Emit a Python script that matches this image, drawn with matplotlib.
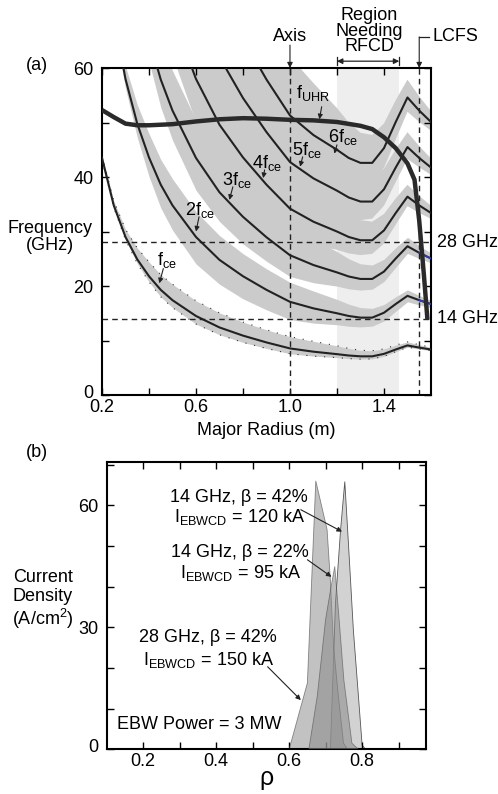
import numpy as np
import matplotlib
matplotlib.use('Agg')
import matplotlib.pyplot as plt
import matplotlib.transforms as mtransforms

plt.rcParams['font.family'] = ['Liberation Sans', 'DejaVu Sans']
plt.rcParams['mathtext.fontset'] = 'custom'
plt.rcParams['mathtext.rm'] = 'Liberation Sans'
plt.rcParams['mathtext.it'] = 'Liberation Sans:italic'
FS = 13
plt.rcParams['font.size'] = FS

# ---- panel (a): resonance frequencies vs major radius ----
R = [0.20, 0.25, 0.30, 0.35, 0.40, 0.45, 0.50, 0.60, 0.70, 0.80, 0.90, 1.00,
     1.10, 1.20, 1.25, 1.30, 1.35, 1.40, 1.45, 1.50, 1.55, 1.60]
f1ce = [43.5, 34.8, 29.0, 24.9, 21.8, 19.3, 17.4, 14.5, 12.4, 10.9, 9.65, 8.55,
        7.95, 7.5, 7.25, 7.1, 7.1, 7.55, 8.35, 9.1, 8.7, 8.35]
f2ce = [87, 69.6, 58, 49.8, 43.6, 38.6, 34.8, 29, 24.8, 21.8, 19.3, 17.1,
        15.9, 15, 14.5, 14.2, 14.2, 15.1, 16.7, 18.2, 17.4, 16.7]
f3ce = [130.5, 104.4, 87, 74.7, 65.4, 57.9, 52.2, 43.5, 37.2, 32.7, 28.95, 25.65,
        23.85, 22.5, 21.75, 21.3, 21.3, 22.65, 25.05, 27.3, 26.1, 25.05]
f4ce = [174, 139.2, 116, 99.6, 87.2, 77.2, 69.6, 58, 49.6, 43.6, 38.6, 34.2,
        31.8, 30, 29, 28.4, 28.4, 30.2, 33.4, 36.4, 34.8, 33.4]
f5ce = [217.5, 174, 145, 124.5, 109, 96.5, 87, 72.5, 62, 54.5, 48.25, 42.75,
        39.75, 37.5, 36.25, 35.5, 35.5, 37.75, 41.75, 45.5, 43.5, 41.75]
f6ce = [261, 208.8, 174, 149.4, 130.8, 115.8, 104.4, 87, 74.4, 65.4, 57.9, 51.3,
        47.7, 45, 43.5, 42.6, 42.6, 45.3, 50.1, 54.6, 52.2, 50.1]

# relative Doppler width of the resonance bands (upper / lower side)
w_hi = [0.01, 0.02, 0.04, 0.07, 0.10, 0.12, 0.14, 0.16, 0.18, 0.19, 0.20, 0.21,
        0.20, 0.17, 0.15, 0.13, 0.12, 0.10, 0.08, 0.06, 0.05, 0.04]
w_lo = [0.01, 0.02, 0.03, 0.05, 0.08, 0.11, 0.13, 0.17, 0.18, 0.19, 0.19, 0.19,
        0.17, 0.14, 0.13, 0.12, 0.11, 0.10, 0.08, 0.06, 0.05, 0.04]
lo_scale = [0.6, 1.0, 0.8, 0.8, 0.8, 0.8]
hi_scale = [1.2, 1.0, 1.0, 1.0, 1.0, 1.0]

R_uhr = [0.20, 0.25, 0.30, 0.35, 0.40, 0.50, 0.60, 0.70, 0.80, 0.90, 1.00, 1.10,
         1.20, 1.30, 1.35, 1.40, 1.45, 1.50, 1.53, 1.55, 1.57, 1.585]
f_uhr = [52.3, 51.0, 49.8, 49.5, 49.5, 49.7, 50.2, 50.6, 50.8, 50.7, 50.5, 50.4,
         50.1, 49.4, 48.8, 47.3, 45.3, 42.5, 39.5, 32.0, 22.0, 13.8]

R_axis = 1.0
R_lcfs = 1.55
rfcd = (1.2, 1.465)
f_sources = [28, 14]

# ---- panel (b): EBW driven current density profiles ----
rho_14_42 = [0.713, 0.727, 0.741, 0.7525, 0.763, 0.776, 0.790, 0.800, 0.810]
j_14_42 = [0, 36, 54, 65.8, 49.8, 29.3, 12.9, 1.0, 0]
rho_28_42 = [0.600, 0.650, 0.673, 0.686, 0.704, 0.713, 0.722, 0.735, 0.749, 0.760]
j_28_42 = [0, 16.3, 66.0, 61.0, 54.0, 41.6, 25.0, 13.0, 1.5, 0]
rho_14_22 = [0.654, 0.677, 0.700, 0.715, 0.725, 0.736, 0.750, 0.772, 0.790]
j_14_22 = [0, 13, 32, 40, 45, 33, 17, 1.5, 0]

fig = plt.figure(figsize=(4.98, 7.94), dpi=100)
ax1 = fig.add_axes([0.2048, 0.5025, 0.6606, 0.4118])
ax2 = fig.add_axes([0.2142, 0.0563, 0.6412, 0.3622])

Ra = np.array(R)
harmonics = [f1ce, f2ce, f3ce, f4ce, f5ce, f6ce]
wl = np.array(w_lo)
wh = np.array(w_hi)

ax1.axvspan(rfcd[0], rfcd[1], color='#eeeeee', zorder=0, lw=0)
for i, f in enumerate(harmonics):
    f = np.array(f)
    lower = f * (1 - lo_scale[i] * wl)
    upper = f * (1 + hi_scale[i] * wh)
    ax1.fill_between(Ra, lower, upper, color='#cbcbcb', lw=0, zorder=1)
    if i == 0:
        ax1.plot(Ra, lower, color='#333333', lw=0.8, ls=(0, (1, 7)), zorder=2)
        ax1.plot(Ra, upper, color='#333333', lw=0.8, ls=(0, (1, 7)), zorder=2)

for fs in f_sources:
    ax1.axhline(fs, color='#222222', lw=1, dashes=(4, 3), zorder=2)
ax1.axvline(R_axis, color='#222222', lw=1, dashes=(4, 3), zorder=2)
ax1.axvline(R_lcfs, color='#222222', lw=1, dashes=(4, 3), zorder=2)

for f in harmonics:
    ax1.plot(Ra, f, color='#222222', lw=1.5, zorder=3)
for f in [f2ce, f3ce]:
    ax1.plot(Ra[-2:], f[-2:], color='#2a3fbf', lw=1.2, zorder=3)
ax1.plot(R_uhr, f_uhr, color='#2a2a2a', lw=3.2, zorder=4, solid_capstyle='butt')

ax1.set_xlim(0.2, 1.6)
ax1.set_ylim(0, 60)
ax1.set_xticks([0.2, 0.6, 1.0, 1.4])
ax1.set_xticks([0.4, 0.8, 1.2], minor=True)
ax1.set_yticks([0, 20, 40, 60])
ax1.set_yticks([10, 30, 50], minor=True)
ax1.set_xlabel('Major Radius (m)', fontsize=FS, labelpad=4)

lbl = dict(fontsize=FS, ha='center', va='center', zorder=6)
arr = dict(arrowstyle='-|>', color='#222222', lw=0.8, mutation_scale=7,
           shrinkA=0, shrinkB=0)
ann_a = [
    (r'f$_{\mathregular{UHR}}$', (1.098, 55.4), (1.135, 52.9), (1.125, 50.6)),
    (r'6f$_{\mathregular{ce}}$', (1.226, 47.4), (1.200, 45.9), (1.189, 44.3)),
    (r'5f$_{\mathregular{ce}}$', (1.071, 45.0), (1.054, 43.7), (1.043, 41.9)),
    (r'4f$_{\mathregular{ce}}$', (0.901, 42.6), (0.892, 41.3), (0.886, 39.8)),
    (r'3f$_{\mathregular{ce}}$', (0.773, 39.4), (0.757, 38.2), (0.742, 35.8)),
    (r'2f$_{\mathregular{ce}}$', (0.617, 33.9), (0.613, 32.7), (0.600, 30.0)),
    (r'f$_{\mathregular{ce}}$', (0.475, 24.8), (0.461, 23.2), (0.444, 20.5)),
]
for txt, tpos, a0, a1 in ann_a:
    ax1.text(*tpos, txt, **lbl)
    ax1.annotate('', xy=a1, xytext=a0, arrowprops=arr, zorder=6)

blend = mtransforms.blended_transform_factory(ax1.transData, ax1.transAxes)
ax1.text(R_axis, 1.096, 'Axis', transform=blend, ha='center', va='center', fontsize=FS)
ax1.annotate('', xy=(R_axis, 1.0), xytext=(R_axis, 1.07), xycoords=blend,
             arrowprops=dict(arr, mutation_scale=8), annotation_clip=False)
ax1.text(sum(rfcd) / 2 + 0.005, 1.113, 'Region\nNeeding\nRFCD', transform=blend,
         ha='center', va='center', fontsize=FS, linespacing=0.88)
ax1.annotate('', xy=(rfcd[0], 1.021), xytext=(rfcd[1], 1.021), xycoords=blend,
             arrowprops=dict(arrowstyle='<|-|>', color='#222222', lw=0.9,
                             mutation_scale=8, shrinkA=0, shrinkB=0),
             annotation_clip=False)
for xe in rfcd:
    ax1.plot([xe, xe], [1.008, 1.035], transform=blend, color='#222222',
             lw=0.9, clip_on=False)
ax1.plot([R_lcfs, R_lcfs + 0.04], [1.095, 1.095], transform=blend,
         color='#222222', lw=0.9, clip_on=False)
ax1.annotate('', xy=(R_lcfs, 1.0), xytext=(R_lcfs, 1.095), xycoords=blend,
             arrowprops=dict(arr, mutation_scale=8), annotation_clip=False)
ax1.text(R_lcfs + 0.055, 1.095, 'LCFS', transform=blend, ha='left',
         va='center', fontsize=FS)

yblend = mtransforms.blended_transform_factory(ax1.transAxes, ax1.transData)
for fs in f_sources:
    ax1.text(1.018, fs, f'{fs} GHz', transform=yblend, ha='left',
             va='center', fontsize=FS)

# panel (b)
ax2.fill(rho_14_42, j_14_42, facecolor='#d2d2d2', edgecolor='#555555', lw=0.6, zorder=1)
ax2.fill(rho_28_42, j_28_42, facecolor='#9a9a9a', alpha=0.6, edgecolor='#444444',
         lw=0.6, zorder=2)
ax2.fill(rho_14_22, j_14_22, facecolor='#8a8a8a', alpha=0.55, edgecolor='#444444',
         lw=0.6, zorder=3)

ax2.set_xlim(0.1, 0.975)
ax2.set_ylim(0, 70.7)
ax2.set_xticks([0.2, 0.4, 0.6, 0.8])
ax2.set_xticks([0.3, 0.5, 0.7, 0.9], minor=True)
ax2.set_yticks([0, 30, 60])
ax2.set_yticks([10, 20, 40, 50, 70], minor=True)
ax2.set_xlabel('ρ', fontsize=18, labelpad=-3)

ann_b = [
    ('14 GHz, β = 42%', r'I$_{\mathregular{EBWCD}}$ = 120 kA', 0.463, 62.0, 57.1,
     (0.632, 58.9), (0.745, 53.5)),
    ('14 GHz, β = 22%', r'I$_{\mathregular{EBWCD}}$ = 95 kA', 0.466, 48.5, 43.4,
     (0.650, 46.6), (0.716, 42.4)),
    ('28 GHz, β = 42%', r'I$_{\mathregular{EBWCD}}$ = 150 kA', 0.378, 27.4, 22.0,
     (0.541, 20.3), (0.632, 12.1)),
]
for t1, t2, x, y1, y2, a0, a1 in ann_b:
    ax2.text(x, y1, t1, ha='center', va='center', fontsize=FS, zorder=6)
    ax2.text(x, y2, t2, ha='center', va='center', fontsize=FS, zorder=6)
    ax2.annotate('', xy=a1, xytext=a0, arrowprops=arr, zorder=6)
ax2.text(0.127, 6.0, 'EBW Power = 3 MW', ha='left', va='center', fontsize=FS)

for ax in (ax1, ax2):
    ax.tick_params(which='both', direction='in', top=True, right=True,
                   length=5, width=1, labelsize=FS)
    ax.tick_params(axis='x', pad=3)
    ax.tick_params(axis='y', pad=6)
    for s in ax.spines.values():
        s.set_linewidth(1.5)

# lift the "0" labels a little so they clear the first x tick label
fig.canvas.draw()
lift = mtransforms.ScaledTranslation(0, 4 / 100, fig.dpi_scale_trans)
for ax in (ax1, ax2):
    zero = ax.get_yticklabels()[0]
    zero.set_transform(zero.get_transform() + lift)

fig.text(0.0737, 0.918, '(a)', ha='center', va='center', fontsize=FS)
fig.text(0.0737, 0.4295, '(b)', ha='center', va='center', fontsize=FS)
fig.text(0.100, 0.7015, 'Frequency\n(GHz)', ha='center', va='center',
         fontsize=FS, linespacing=0.95)
fig.text(0.0863, 0.2443, 'Current\nDensity\n(A/cm$^2$)', ha='center',
         va='center', fontsize=FS, linespacing=1.1)

fig.savefig('out.png', dpi=100)
